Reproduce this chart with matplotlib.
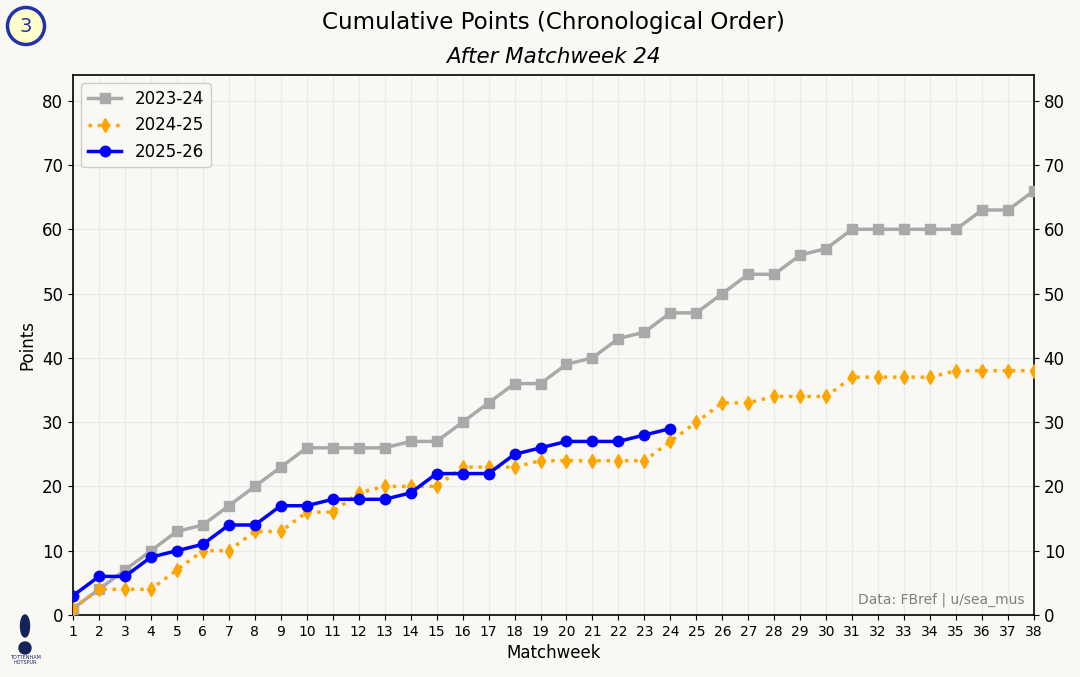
import numpy as np
import matplotlib
matplotlib.use("Agg")
import matplotlib.pyplot as plt
from matplotlib.patches import Circle, Ellipse

# data (cumulative points per matchweek)
weeks = list(range(1, 39))
pts_2324 = [1, 4, 7, 10, 13, 14, 17, 20, 23, 26, 26, 26, 26, 27, 27, 30, 33, 36, 36, 39,
            40, 43, 44, 47, 47, 50, 53, 53, 56, 57, 60, 60, 60, 60, 60, 63, 63, 66]
pts_2425 = [1, 4, 4, 4, 7, 10, 10, 13, 13, 16, 16, 19, 20, 20, 20, 23, 23, 23, 24, 24,
            24, 24, 24, 27, 30, 33, 33, 34, 34, 34, 37, 37, 37, 37, 38, 38, 38, 38]
pts_2526 = [3, 6, 6, 9, 10, 11, 14, 14, 17, 17, 18, 18, 18, 19, 22, 22, 22, 25, 26, 27,
            27, 27, 28, 29]
bg = "#f9f8f5"

fig = plt.figure(figsize=(10.8, 6.77), dpi=100, facecolor=bg)
ax = fig.add_axes([73 / 1080, 1 - 615 / 677, (1034 - 73) / 1080, (615 - 75) / 677])
ax.set_facecolor(bg)

ax.plot(weeks, pts_2324, color="darkgray", lw=2.5, marker="s", ms=6.5, label="2023-24", zorder=3)
ax.plot(weeks, pts_2425, color="orange", lw=2.5, ls=":", marker="d", ms=7, label="2024-25", zorder=3)
ax.plot(weeks[:len(pts_2526)], pts_2526, color="blue", lw=2.5, marker="o", ms=7.5, label="2025-26", zorder=4)

ax.set_xlim(1, 38)
ax.set_ylim(0, 84)
ax.set_xticks(weeks)
ax.set_yticks(range(0, 81, 10))
ax.tick_params(axis="x", labelsize=10)
ax.tick_params(axis="y", labelsize=12, right=True, labelright=True)
ax.grid(True, color="#ebebeb", lw=1, zorder=0)
ax.set_xlabel("Matchweek", fontsize=12)
ax.set_ylabel("Points", fontsize=12)
for s in ax.spines.values():
    s.set_linewidth(1.2)

leg = ax.legend(loc="upper left", fontsize=12, framealpha=1, facecolor=bg, edgecolor="#cccccc")

ax.text(0.99, 0.015, "Data: FBref | u/sea_mus", transform=ax.transAxes, ha="right",
        va="bottom", fontsize=10, color="gray")

# titles centred over the axes
tx = (73 + 1034) / 2 / 1080
fig.text(tx, 1 - 22 / 677, "Cumulative Points (Chronological Order)", ha="center", va="center", fontsize=16.6)
fig.text(tx, 1 - 57 / 677, "After Matchweek 24", ha="center", va="center", fontsize=15.4, style="italic")

# matchweek badge
bax = fig.add_axes([0, 1 - 52 / 677, 52 / 1080, 52 / 677])
bax.set_xlim(0, 52)
bax.set_ylim(0, 52)
bax.set_aspect("equal")
bax.axis("off")
bax.add_patch(Circle((26, 26), 18.5, facecolor="#ffffcc", edgecolor="#2233aa", lw=2.5))
bax.text(26, 25, "3", ha="center", va="center", fontsize=14, color="#2233aa")

# club crest stand-in
lax = fig.add_axes([5 / 1080, 1 - 670 / 677, 40 / 1080, 65 / 677])
lax.set_xlim(0, 40)
lax.set_ylim(0, 65)
lax.axis("off")
navy = "#132257"
lax.add_patch(Ellipse((20, 44), 9, 22, color=navy))
lax.add_patch(Circle((20, 22), 6, color=navy))
lax.text(20, 10, "TOTTENHAM\nHOTSPUR", ha="center", va="center", fontsize=3.5, color=navy,
         linespacing=1.1)

fig.savefig("out.png", dpi=100, facecolor=bg)
